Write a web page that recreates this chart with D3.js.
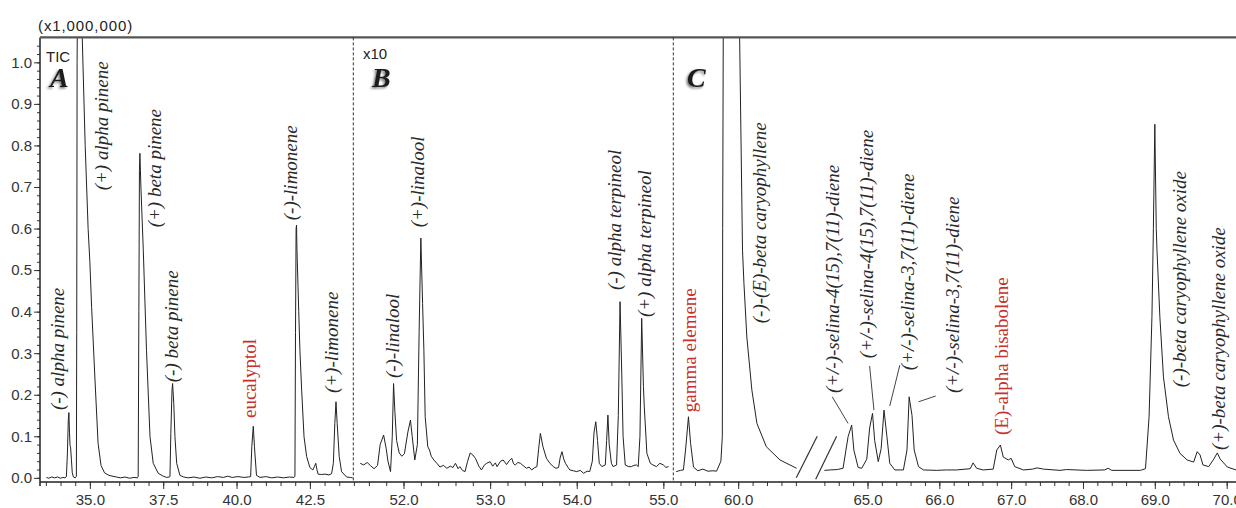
<!DOCTYPE html>
<html>
<head>
<meta charset="utf-8">
<script src="https://cdn.jsdelivr.net/npm/d3@7"></script>
<style>
  html, body { margin: 0; padding: 0; background: #fff; }
  svg { display: block; }
</style>
</head>
<body>
<svg id="chart" width="1236" height="508"></svg>
<script>
// ---- Chromatogram data: [retention time (min), intensity (x1,000,000)] ----
// Window A: monoterpene hydrocarbons
const traceA = [
  [33.52, 0.001], [33.60, -0.001], [33.70, 0.002], [33.80, 0.000], [33.90, 0.002],
  [34.00, -0.001], [34.08, 0.001], [34.15, 0.000], [34.20, 0.003], [34.235, 0.06],
  [34.265, 0.14], [34.285, 0.157], [34.305, 0.11], [34.325, 0.078], [34.345, 0.072],
  [34.37, 0.045], [34.40, 0.012], [34.44, 0.002], [34.50, 0.000], [34.54, 0.004],
  [34.552, 0.35], [34.565, 1.00], [34.59, 1.28], [34.63, 1.35], [34.68, 1.24],
  [34.74, 1.06], [34.84, 0.80], [34.94, 0.60], [35.00, 0.52], [35.06, 0.41],
  [35.17, 0.243], [35.28, 0.083], [35.38, 0.03], [35.50, 0.012], [35.65, 0.006],
  [35.90, 0.002], [36.05, 0.000], [36.20, 0.002], [36.35, -0.001], [36.50, 0.001],
  [36.62, 0.000], [36.647, 0.003], [36.67, 0.40], [36.69, 0.74], [36.705, 0.781],
  [36.74, 0.70], [36.82, 0.55], [36.93, 0.307], [37.05, 0.099], [37.16, 0.035],
  [37.33, 0.011], [37.50, 0.004], [37.62, 0.001], [37.70, 0.002], [37.73, 0.003],
  [37.76, 0.107], [37.80, 0.211], [37.82, 0.227], [37.86, 0.179], [37.90, 0.099],
  [37.96, 0.035], [38.07, 0.006], [38.20, 0.002], [38.35, 0.000], [38.55, 0.002],
  [38.75, -0.001], [38.95, 0.002], [39.15, 0.000], [39.35, 0.003], [39.55, 0.001],
  [39.70, 0.004], [39.85, 0.001], [40.05, 0.003], [40.25, 0.001], [40.40, 0.002],
  [40.48, 0.003], [40.52, 0.075], [40.57, 0.124], [40.61, 0.075], [40.68, 0.006],
  [40.80, 0.001], [41.00, 0.003], [41.20, 0.000], [41.40, 0.002], [41.60, 0.000],
  [41.80, 0.002], [41.96, 0.001], [41.99, 0.004], [42.01, 0.35], [42.03, 0.60],
  [42.045, 0.608], [42.06, 0.548], [42.12, 0.40], [42.16, 0.307], [42.22, 0.211],
  [42.30, 0.099], [42.39, 0.051], [42.50, 0.025], [42.60, 0.019], [42.66, 0.028],
  [42.70, 0.035], [42.74, 0.02], [42.78, 0.009], [42.90, 0.008], [43.01, 0.009],
  [43.15, 0.007], [43.24, 0.01], [43.30, 0.035], [43.35, 0.131], [43.39, 0.183],
  [43.43, 0.131], [43.50, 0.051], [43.58, 0.015], [43.75, 0.002], [43.88, 0.001],
  [43.96, 0.000]
];

// Window B: oxygenated monoterpenes (shown at x10)
const traceB = [
  [51.50, 0.035], [51.54, 0.031], [51.58, 0.037], [51.62, 0.029], [51.66, 0.022],
  [51.70, 0.030], [51.73, 0.080], [51.77, 0.103], [51.80, 0.07], [51.82, 0.040],
  [51.85, 0.015], [51.87, 0.10], [51.885, 0.227], [51.90, 0.16], [51.92, 0.090],
  [51.95, 0.060], [51.98, 0.052], [52.01, 0.058], [52.05, 0.110], [52.08, 0.139],
  [52.10, 0.10], [52.13, 0.043], [52.16, 0.08], [52.18, 0.35], [52.20, 0.577],
  [52.22, 0.42], [52.235, 0.307], [52.25, 0.147], [52.28, 0.075], [52.30, 0.067],
  [52.32, 0.052], [52.35, 0.043], [52.39, 0.034], [52.42, 0.026], [52.46, 0.030],
  [52.50, 0.023], [52.54, 0.028], [52.57, 0.025], [52.60, 0.035], [52.63, 0.022],
  [52.65, 0.027], [52.68, 0.018], [52.71, 0.015], [52.74, 0.040], [52.77, 0.060],
  [52.80, 0.055], [52.83, 0.047], [52.87, 0.028], [52.90, 0.019], [52.93, 0.030],
  [52.96, 0.035], [53.00, 0.039], [53.03, 0.028], [53.06, 0.036], [53.08, 0.027],
  [53.12, 0.040], [53.15, 0.043], [53.19, 0.032], [53.22, 0.041], [53.25, 0.047],
  [53.27, 0.034], [53.29, 0.031], [53.32, 0.037], [53.35, 0.035], [53.39, 0.028],
  [53.42, 0.023], [53.45, 0.026], [53.48, 0.019], [53.51, 0.024], [53.54, 0.027],
  [53.56, 0.07], [53.58, 0.107], [53.61, 0.075], [53.65, 0.047], [53.69, 0.035],
  [53.73, 0.027], [53.76, 0.023], [53.79, 0.025], [53.81, 0.05], [53.83, 0.063],
  [53.85, 0.045], [53.87, 0.035], [53.90, 0.025], [53.92, 0.019], [53.96, 0.017],
  [54.00, 0.015], [54.04, 0.018], [54.08, 0.011], [54.12, 0.016], [54.15, 0.015],
  [54.18, 0.04], [54.20, 0.11], [54.22, 0.135], [54.24, 0.09], [54.26, 0.035],
  [54.29, 0.027], [54.33, 0.031], [54.345, 0.09], [54.36, 0.151], [54.375, 0.08],
  [54.40, 0.035], [54.42, 0.027], [54.46, 0.031], [54.48, 0.15], [54.50, 0.424],
  [54.52, 0.25], [54.535, 0.10], [54.56, 0.031], [54.60, 0.027], [54.63, 0.027],
  [54.66, 0.030], [54.69, 0.031], [54.71, 0.027], [54.73, 0.10], [54.75, 0.384],
  [54.77, 0.22], [54.78, 0.171], [54.81, 0.059], [54.85, 0.035], [54.88, 0.031],
  [54.92, 0.027], [54.96, 0.035], [55.00, 0.031], [55.03, 0.025], [55.06, 0.027]
];

// Window C: sesquiterpenes (axis broken between 60.8 and 64.3 min)
const traceC = [
  [59.14, 0.015], [59.20, 0.018], [59.24, 0.019], [59.27, 0.067], [59.31, 0.147],
  [59.34, 0.083], [59.38, 0.026], [59.44, 0.017], [59.51, 0.021], [59.58, 0.016],
  [59.65, 0.017], [59.70, 0.016], [59.76, 0.04], [59.78, 0.099], [59.785, 0.6],
  [59.80, 1.5], [59.85, 1.95], [59.92, 1.9], [59.98, 1.45], [60.02, 1.06],
  [60.06, 0.548], [60.08, 0.468], [60.12, 0.339], [60.19, 0.211], [60.26, 0.131],
  [60.39, 0.075], [60.58, 0.043], [60.81, 0.023],
  [64.29, 0.019], [64.40, 0.018], [64.48, 0.019], [64.58, 0.020], [64.66, 0.023],
  [64.73, 0.099], [64.78, 0.127], [64.81, 0.067], [64.87, 0.025], [64.92, 0.023],
  [64.99, 0.045], [65.03, 0.12], [65.07, 0.155], [65.10, 0.09], [65.15, 0.039],
  [65.19, 0.07], [65.23, 0.163], [65.27, 0.10], [65.31, 0.035], [65.38, 0.019],
  [65.50, 0.019], [65.55, 0.067], [65.58, 0.195], [65.62, 0.15], [65.65, 0.067],
  [65.71, 0.027], [65.78, 0.019], [65.96, 0.018], [66.10, 0.019], [66.24, 0.019],
  [66.43, 0.022], [66.47, 0.036], [66.52, 0.023], [66.61, 0.019], [66.75, 0.021],
  [66.80, 0.067], [66.85, 0.079], [66.89, 0.05], [66.96, 0.043], [67.00, 0.047],
  [67.05, 0.027], [67.17, 0.019], [67.30, 0.021], [67.36, 0.024], [67.45, 0.021],
  [67.68, 0.018], [67.77, 0.020], [68.05, 0.018], [68.30, 0.019], [68.35, 0.023],
  [68.40, 0.018], [68.80, 0.018], [68.87, 0.022], [68.92, 0.147], [68.96, 0.388],
  [68.98, 0.60], [69.00, 0.851], [69.02, 0.60], [69.03, 0.548], [69.07, 0.388],
  [69.12, 0.243], [69.19, 0.147], [69.26, 0.091], [69.35, 0.059], [69.45, 0.043],
  [69.54, 0.038], [69.59, 0.063], [69.63, 0.055], [69.67, 0.031], [69.75, 0.027],
  [69.82, 0.045], [69.87, 0.060], [69.91, 0.045], [70.01, 0.026], [70.13, 0.019]
];
const breakC = [60.82, 64.3];

// Tick labels
const yTicks = [0, 0.1, 0.2, 0.3, 0.4, 0.5, 0.6, 0.7, 0.8, 0.9, 1.0];
const ticksA = [35.0, 37.5, 40.0, 42.5];
const ticksB = [52.0, 53.0, 54.0, 55.0];
const ticksC = [60.0, 65.0, 66.0, 67.0, 68.0, 69.0, 70.0];

// Peak identifications: label anchored at (time, intensity)
const labelsA = [
  { name: "(-) alpha pinene", t: 34.11, v: 0.163 },
  { name: "(+) alpha pinene", t: 35.61, v: 0.692 },
  { name: "(+) beta pinene", t: 37.42, v: 0.603 },
  { name: "(-) beta pinene", t: 38.00, v: 0.230 },
  { name: "eucalyptol", t: 40.66, v: 0.144, achiral: true },
  { name: "(-)-limonene", t: 42.06, v: 0.620 },
  { name: "(+)-limonene", t: 43.46, v: 0.204 }
];
const labelsB = [
  { name: "(-)-linalool", t: 51.95, v: 0.240 },
  { name: "(+)-linalool", t: 52.24, v: 0.603 },
  { name: "(-) alpha terpineol", t: 54.51, v: 0.452 },
  { name: "(+) alpha terpineol", t: 54.86, v: 0.387 }
];
const labelsC = [
  { name: "gamma elemene", t: 59.41, v: 0.158, achiral: true },
  { name: "(-)-(E)-beta caryophyllene", t: 60.38, v: 0.372 },
  { name: "(+/-)-selina-4(15),7(11)-diene", t: 64.60, v: 0.204 },
  { name: "(+/-)-selina-4(15),7(11)-diene", t: 65.08, v: 0.288 },
  { name: "(+/-)-selina-3,7(11)-diene", t: 65.65, v: 0.259 },
  { name: "(+/-)-selina-3,7(11)-diene", t: 66.27, v: 0.204 },
  { name: "(E)-alpha bisabolene", t: 66.96, v: 0.103, achiral: true },
  { name: "(-)-beta caryophyllene oxide", t: 69.44, v: 0.218 },
  { name: "(+)-beta caryophyllene oxide", t: 69.97, v: 0.067 }
];
// Leader lines from selinadiene labels to their peaks
const leadersC = [
  [[64.51, 0.195], [64.73, 0.131]],
  [[65.03, 0.269], [65.09, 0.163]],
  [[65.45, 0.271], [65.31, 0.173]],
  [[65.71, 0.183], [65.95, 0.197]]
];

// ---- Layout ----
const W = 1236, H = 508;
const plotLeft = 40, plotTop = 37.4, plotBottom = 482;
const splitAB = 353.3, splitBC = 673.3;

const svg = d3.select("#chart");
const defs = svg.append("defs");
defs.append("clipPath").attr("id", "plotClip")
  .append("rect").attr("x", plotLeft).attr("y", plotTop + 0.5)
  .attr("width", W - plotLeft).attr("height", plotBottom - plotTop);
const shadow = defs.append("filter").attr("id", "letterShadow")
  .attr("x", "-50%").attr("y", "-50%").attr("width", "200%").attr("height", "200%");
shadow.append("feDropShadow").attr("dx", -1.5).attr("dy", 1.5)
  .attr("stdDeviation", 1.3).attr("flood-color", "#000").attr("flood-opacity", 0.55);

const y = d3.scaleLinear().domain([-0.01, 1.06]).range([plotBottom, plotTop]);
const xA = d3.scaleLinear().domain([33.3, 43.98]).range([plotLeft, splitAB]);
const xB = d3.scaleLinear().domain([51.42, 55.115]).range([splitAB, splitBC]);
const xC = d3.scaleLinear()
  .domain([59.1, breakC[0], breakC[1], 70.13])
  .range([splitBC, 797.3, 817.2, W]);

const tickFont = "'Liberation Sans', Arial, sans-serif";
const serif = "'Liberation Serif', 'Times New Roman', serif";
const ink = "#222";

// ---- Traces ----
const plot = svg.append("g").attr("clip-path", "url(#plotClip)");
function drawTrace(data, x) {
  const line = d3.line().x(d => x(d[0])).y(d => y(d[1]));
  plot.append("path").datum(data)
    .attr("d", line)
    .attr("fill", "none")
    .attr("stroke", ink)
    .attr("stroke-width", 1)
    .attr("stroke-linejoin", "round");
}
drawTrace(traceA, xA);
drawTrace(traceB, xB);
drawTrace(traceC.filter(d => d[0] <= breakC[0]), xC);
drawTrace(traceC.filter(d => d[0] >= breakC[1]), xC);

// ---- Axes ----
const fmt = d3.format(".1f");
function styleAxis(g) {
  g.select(".domain").remove();
  g.selectAll(".tick line").attr("stroke", "#333").attr("stroke-width", 1);
  g.selectAll(".tick text")
    .attr("fill", "#333")
    .attr("font-family", tickFont)
    .attr("font-size", 15);
}
function stepRange(a, b, s) {
  const n = Math.round((b - a) / s);
  return d3.range(n + 1).map(i => +(a + i * s).toFixed(2));
}
function xAxis(scale, majors, minors) {
  svg.append("g").attr("transform", `translate(0,${plotBottom})`)
    .call(d3.axisBottom(scale).tickValues(minors).tickSize(4).tickFormat(""))
    .call(styleAxis);
  svg.append("g").attr("transform", `translate(0,${plotBottom})`)
    .call(d3.axisBottom(scale).tickValues(majors).tickSize(7).tickPadding(5).tickFormat(fmt))
    .call(styleAxis);
}
xAxis(xA, ticksA, stepRange(33.5, 44.0, 0.5));
xAxis(xB, ticksB, stepRange(51.6, 55.0, 0.2));
xAxis(xC, ticksC, stepRange(59.2, 60.8, 0.2).concat(stepRange(64.4, 70.0, 0.2)));

svg.append("g").attr("transform", `translate(${plotLeft},0)`)
  .call(d3.axisLeft(y).tickValues(stepRange(0, 1.04, 0.02)).tickSize(3).tickFormat(""))
  .call(styleAxis);
svg.append("g").attr("transform", `translate(${plotLeft},0)`)
  .call(d3.axisLeft(y).tickValues(yTicks).tickSize(6).tickPadding(2).tickFormat(fmt))
  .call(styleAxis);

// Frame: left and bottom axis lines, heavier top rule
svg.append("line").attr("x1", plotLeft).attr("x2", W).attr("y1", plotBottom).attr("y2", plotBottom)
  .attr("stroke", ink).attr("stroke-width", 1.5);
svg.append("line").attr("x1", plotLeft).attr("x2", plotLeft).attr("y1", plotTop).attr("y2", plotBottom + 4)
  .attr("stroke", ink).attr("stroke-width", 1.5);
svg.append("line").attr("x1", plotLeft).attr("x2", W).attr("y1", plotTop).attr("y2", plotTop)
  .attr("stroke", "#555").attr("stroke-width", 2.2);

// Window separators
[splitAB, splitBC].forEach(xp => {
  svg.append("line").attr("x1", xp).attr("x2", xp).attr("y1", plotTop).attr("y2", plotBottom)
    .attr("stroke", "#333").attr("stroke-width", 1).attr("stroke-dasharray", "3,2");
});

// Axis break marks in window C
const gap = xC(breakC[1]) - xC(breakC[0]);
[0, gap - 0.5].forEach(shift => {
  svg.append("line")
    .attr("x1", xC(breakC[0]) - 1 + shift).attr("y1", y(0) + (shift ? 1.5 : 0))
    .attr("x2", xC(breakC[1]) + shift).attr("y2", y(0.1))
    .attr("stroke", "#333").attr("stroke-width", 1.2);
});

// Leader lines
leadersC.forEach(seg => {
  svg.append("line")
    .attr("x1", xC(seg[0][0])).attr("y1", y(seg[0][1]))
    .attr("x2", xC(seg[1][0])).attr("y2", y(seg[1][1]))
    .attr("stroke", "#444").attr("stroke-width", 1);
});

// ---- Peak labels (vertical, reading upward) ----
function drawLabels(labels, x) {
  svg.append("g").selectAll("text").data(labels).join("text")
    .attr("transform", d => `translate(${x(d.t)},${y(d.v)}) rotate(-90)`)
    .attr("font-family", serif)
    .attr("font-size", 19)
    .attr("font-style", d => d.achiral ? "normal" : "italic")
    .attr("fill", d => d.achiral ? "#c8302e" : "#2a2a2a")
    .text(d => d.name);
}
drawLabels(labelsA, xA);
drawLabels(labelsB, xB);
drawLabels(labelsC, xC);

// ---- Annotations ----
svg.append("text").attr("x", 38).attr("y", 31)
  .attr("font-family", tickFont).attr("font-size", 15).attr("letter-spacing", 0.9)
  .attr("fill", "#222").text("(x1,000,000)");
svg.append("text").attr("x", 46).attr("y", 62)
  .attr("font-family", tickFont).attr("font-size", 15).attr("fill", "#222").text("TIC");
svg.append("text").attr("x", 363).attr("y", 59)
  .attr("font-family", tickFont).attr("font-size", 15).attr("fill", "#222").text("x10");

[["A", 50], ["B", 372], ["C", 687]].forEach(([letter, xp]) => {
  svg.append("text").attr("x", xp).attr("y", 87)
    .attr("font-family", serif).attr("font-size", 28)
    .attr("font-style", "italic").attr("font-weight", "bold")
    .attr("fill", "#1a1a1a").attr("filter", "url(#letterShadow)")
    .text(letter);
});
</script>
</body>
</html>
